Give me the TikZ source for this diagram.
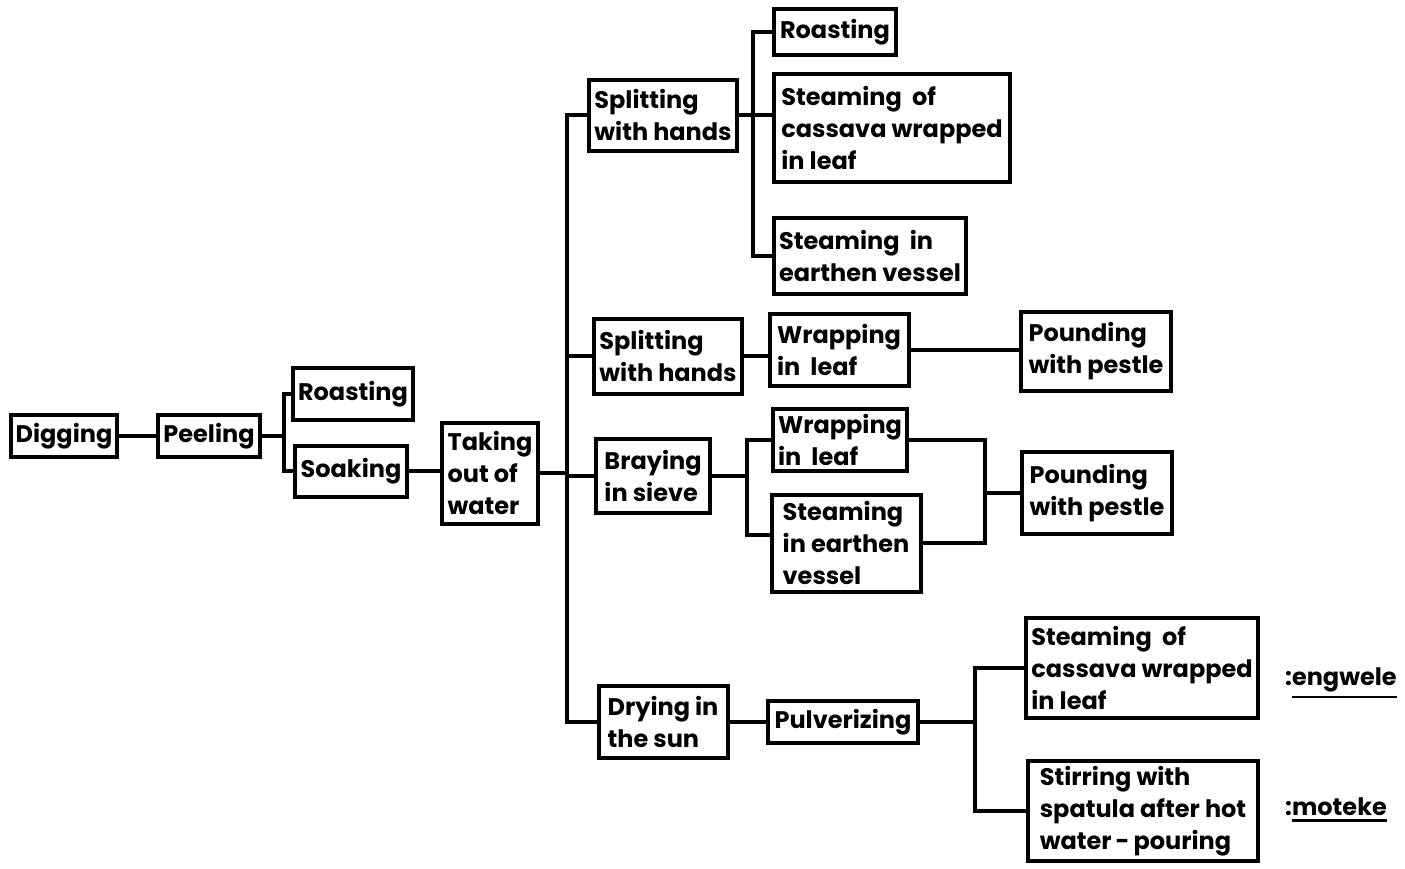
\documentclass[tikz,border=0pt]{standalone}
\usepackage{fontspec}
\setmainfont{Poppins}
\newcommand{\uword}[1]{\vtop{\hbox{#1}\kern4pt\hrule height 2.5pt}}
\begin{document}
\begin{tikzpicture}[x=1pt,y=-1pt,line join=miter,
	box/.style={draw,line width=4pt,inner sep=5pt,align=left,font=\bfseries\fontsize{24}{32}\selectfont},
	tag/.style={inner sep=0pt,anchor=base west,font=\bfseries\fontsize{24}{32}\selectfont},
	link/.style={line width=4pt}]
	\useasboundingbox (0,0) rectangle (1405,868);
	% first steps
	\node[box,minimum width=105pt,minimum height=42pt] (dig) at (64,436) {Digging};
	\node[box,minimum width=101pt,minimum height=42pt] (peel) at (209,436) {Peeling};
	\node[box,minimum width=115pt,minimum height=52pt] (roast) at (353,394) {Roasting};
	\node[box,minimum width=112pt,minimum height=51pt] (soak) at (351,471) {Soaking};
	\node[box,minimum width=96pt,minimum height=101pt] (take) at (490,473) {Taking\\out of\\water};
	% splitting, first branch
	\node[box,minimum width=136pt,minimum height=71pt] (splitA) at (663,115) {Splitting\\with hands};
	\node[box,minimum width=122pt,minimum height=46pt] (roastA) at (835,32) {Roasting};
	\node[box,minimum width=236pt,minimum height=108pt] (steamA) at (892,128) {Steaming~~of\\cassava wrapped\\in leaf};
	\node[box,minimum width=191pt,minimum height=76pt] (vesselA) at (870,256) {Steaming~~in\\earthen vessel};
	% splitting, second branch
	\node[box,minimum width=144pt,minimum height=75pt] (splitB) at (668,356) {Splitting\\with hands};
	\node[box,minimum width=139pt,minimum height=72pt] (wrapB) at (839,350) {Wrapping\\in~~leaf};
	\node[box,minimum width=150pt,minimum height=79pt] (poundB) at (1096,351) {Pounding\\with pestle};
	% braying
	\node[box,minimum width=114pt,minimum height=74pt] (bray) at (653,476) {Braying\\in sieve};
	\node[box,minimum width=133pt,minimum height=62pt] (wrapC) at (840,440) {Wrapping\\in~~leaf};
	\node[box,minimum width=149pt,minimum height=97pt] (vesselC) at (846,543) {Steaming\\in earthen\\vessel};
	\node[box,minimum width=150pt,minimum height=82pt] (poundC) at (1097,493) {Pounding\\with pestle};
	% drying
	\node[box,minimum width=129pt,minimum height=72pt] (dry) at (663,722) {Drying in\\the sun};
	\node[box,minimum width=150pt,minimum height=42pt] (pulv) at (843,722) {Pulverizing};
	\node[box,minimum width=232pt,minimum height=100pt] (steamD) at (1142,668) {Steaming~~of\\cassava wrapped\\in leaf};
	\node[box,minimum width=230pt,minimum height=99pt] (stir) at (1143,811) {Stirring with\\spatula after hot\\water\,-\,pouring};
	\node[tag] (engwele) at (1285,685) {:\uword{engwele}};
	\node[tag] (moteke) at (1285,815) {:\uword{moteke}};
	% connectors
	\coordinate (trunk) at (567,0);
	\coordinate (forkA) at (753,0);
	\coordinate (forkC) at (747,0);
	\coordinate (joinC) at (985,0);
	\coordinate (forkD) at (975,0);
	\coordinate (vC) at ([yshift=8pt]vesselC.west);
	\draw[link] (dig) -- (peel);
	\draw[link] (peel.east) -- ++(22,0) coordinate (j1) |- (roast.west);
	\draw[link] (j1) |- (soak.west);
	\draw[link] (soak.east) -- (soak.east -| take.west);
	\draw[link] (take.east) -- (take.east -| trunk);
	\draw[link] (splitA.west) -| (trunk |- dry.west) -- (dry.west);
	\draw[link] (splitB.west) -- (splitB.west -| trunk);
	\draw[link] (bray.west) -- (bray.west -| trunk);
	\draw[link] (roastA.west) -| (forkA |- vesselA.west) -- (vesselA.west);
	\draw[link] (splitA.east) -- (splitA.east -| steamA.west);
	\draw[link] (splitB.east) -- (splitB.east -| wrapB.west);
	\draw[link] (wrapB.east) -- (wrapB.east -| poundB.west);
	\draw[link] (bray.east) -- (bray.east -| forkC);
	\draw[link] (wrapC.west) -| (forkC |- vC) -- (vC);
	\draw[link] (wrapC.east) -| (joinC |- vesselC.east) -- (vesselC.east);
	\draw[link] (joinC |- poundC.west) -- (poundC.west);
	\draw[link] (dry) -- (pulv);
	\draw[link] (pulv.east) -- (pulv.east -| forkD);
	\draw[link] (steamD.west) -| (forkD |- stir.west) -- (stir.west);
\end{tikzpicture}
\end{document}
